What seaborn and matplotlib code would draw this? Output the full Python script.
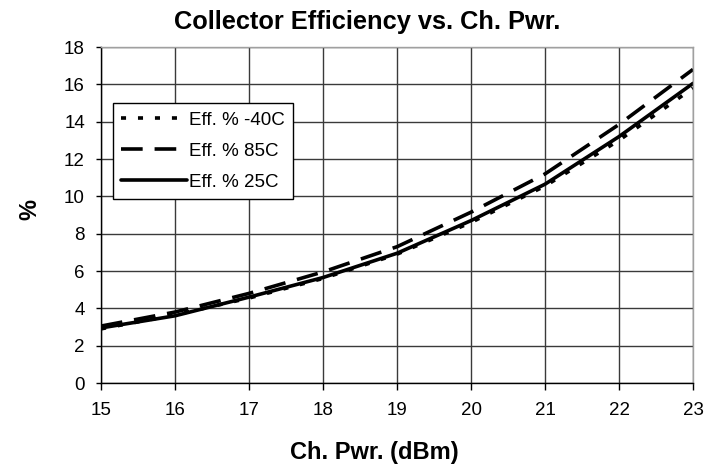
import matplotlib
matplotlib.use("Agg")
import matplotlib.pyplot as plt
import seaborn as sns
import pandas as pd

# ---- data ----
ch_pwr = [15, 16, 17, 18, 19, 20, 21, 22, 23]
eff_m40 = [2.9, 3.65, 4.55, 5.6, 6.9, 8.6, 10.55, 13.0, 15.8]
eff_85 = [3.05, 3.8, 4.8, 5.95, 7.3, 9.15, 11.2, 13.85, 16.8]
eff_25 = [2.95, 3.6, 4.6, 5.65, 6.95, 8.7, 10.65, 13.2, 16.05]
series_names = ["Eff. % -40C", "Eff. % 85C", "Eff. % 25C"]
x_ticks = [15, 16, 17, 18, 19, 20, 21, 22, 23]
y_ticks = [0, 2, 4, 6, 8, 10, 12, 14, 16, 18]

rows = []
for name, vals in zip(series_names, [eff_m40, eff_85, eff_25]):
    for x, v in zip(ch_pwr, vals):
        rows.append({"Ch. Pwr. (dBm)": x, "%": v, "series": name})
df = pd.DataFrame(rows)

sns.set_theme(style="ticks")
plt.rcParams["font.family"] = ["Liberation Sans", "DejaVu Sans"]
plt.rcParams["text.color"] = "black"
plt.rcParams["axes.labelcolor"] = "black"
plt.rcParams["xtick.color"] = "black"
plt.rcParams["ytick.color"] = "black"

fig = plt.figure(figsize=(7.21, 4.66), dpi=100)
ax = fig.add_axes([101 / 721, 1 - 383 / 466, (693 - 101) / 721, (383 - 47) / 466])

dashes = {
    "Eff. % -40C": (1.4, 3.3),
    "Eff. % 85C": (6.0, 3.3),
    "Eff. % 25C": "",
}
palette = {n: "black" for n in series_names}

sns.lineplot(
    data=df, x="Ch. Pwr. (dBm)", y="%", hue="series", style="series",
    hue_order=series_names, style_order=series_names,
    palette=palette, dashes=dashes, linewidth=2.6, ax=ax,
)

ax.set_xlim(15, 23)
ax.set_ylim(0, 18)
ax.set_xticks(x_ticks)
ax.set_yticks(y_ticks)
ax.tick_params(axis="x", labelsize=13.5, length=5, width=1, color="black",
               labelcolor="black", pad=9, direction="out")
ax.tick_params(axis="y", labelsize=13.5, length=3.6, width=1, color="black",
               labelcolor="black", pad=8, direction="out")

ax.grid(True, color="#3a3a3a", linewidth=1.0)
ax.set_axisbelow(True)
for side in ["left", "bottom"]:
    ax.spines[side].set_color("black")
    ax.spines[side].set_linewidth(1.0)
for side in ["top", "right"]:
    ax.spines[side].set_visible(True)
    ax.spines[side].set_color("#a0a0a0")
    ax.spines[side].set_linewidth(1.0)

ax.set_xlabel("")
ax.set_ylabel("")
fig.text(374 / 721, 1 - 452 / 466, "Ch. Pwr. (dBm)", ha="center", va="center",
         fontsize=17, fontweight="bold", color="black")
fig.text(30 / 721, 1 - 210 / 466, "%", ha="center", va="center", rotation=90,
         fontsize=17, fontweight="bold", color="black")
fig.text(367 / 721, 1 - 22 / 466, "Collector Efficiency vs. Ch. Pwr.", ha="center",
         va="center", fontsize=18.3, fontweight="bold", color="black")

leg = ax.legend(
    loc="upper left", bbox_to_anchor=((113 - 101) / 592, (383 - 103) / 336),
    frameon=True, fancybox=False, edgecolor="black", facecolor="white",
    framealpha=1, fontsize=13.5, handlelength=3.5, handletextpad=0.1,
    borderpad=0.45, labelspacing=0.75, borderaxespad=0,
)
leg.get_frame().set_linewidth(1.0)
leg.set_title(None)
for t in leg.get_texts():
    t.set_color("black")

fig.savefig("out.png", dpi=100)
